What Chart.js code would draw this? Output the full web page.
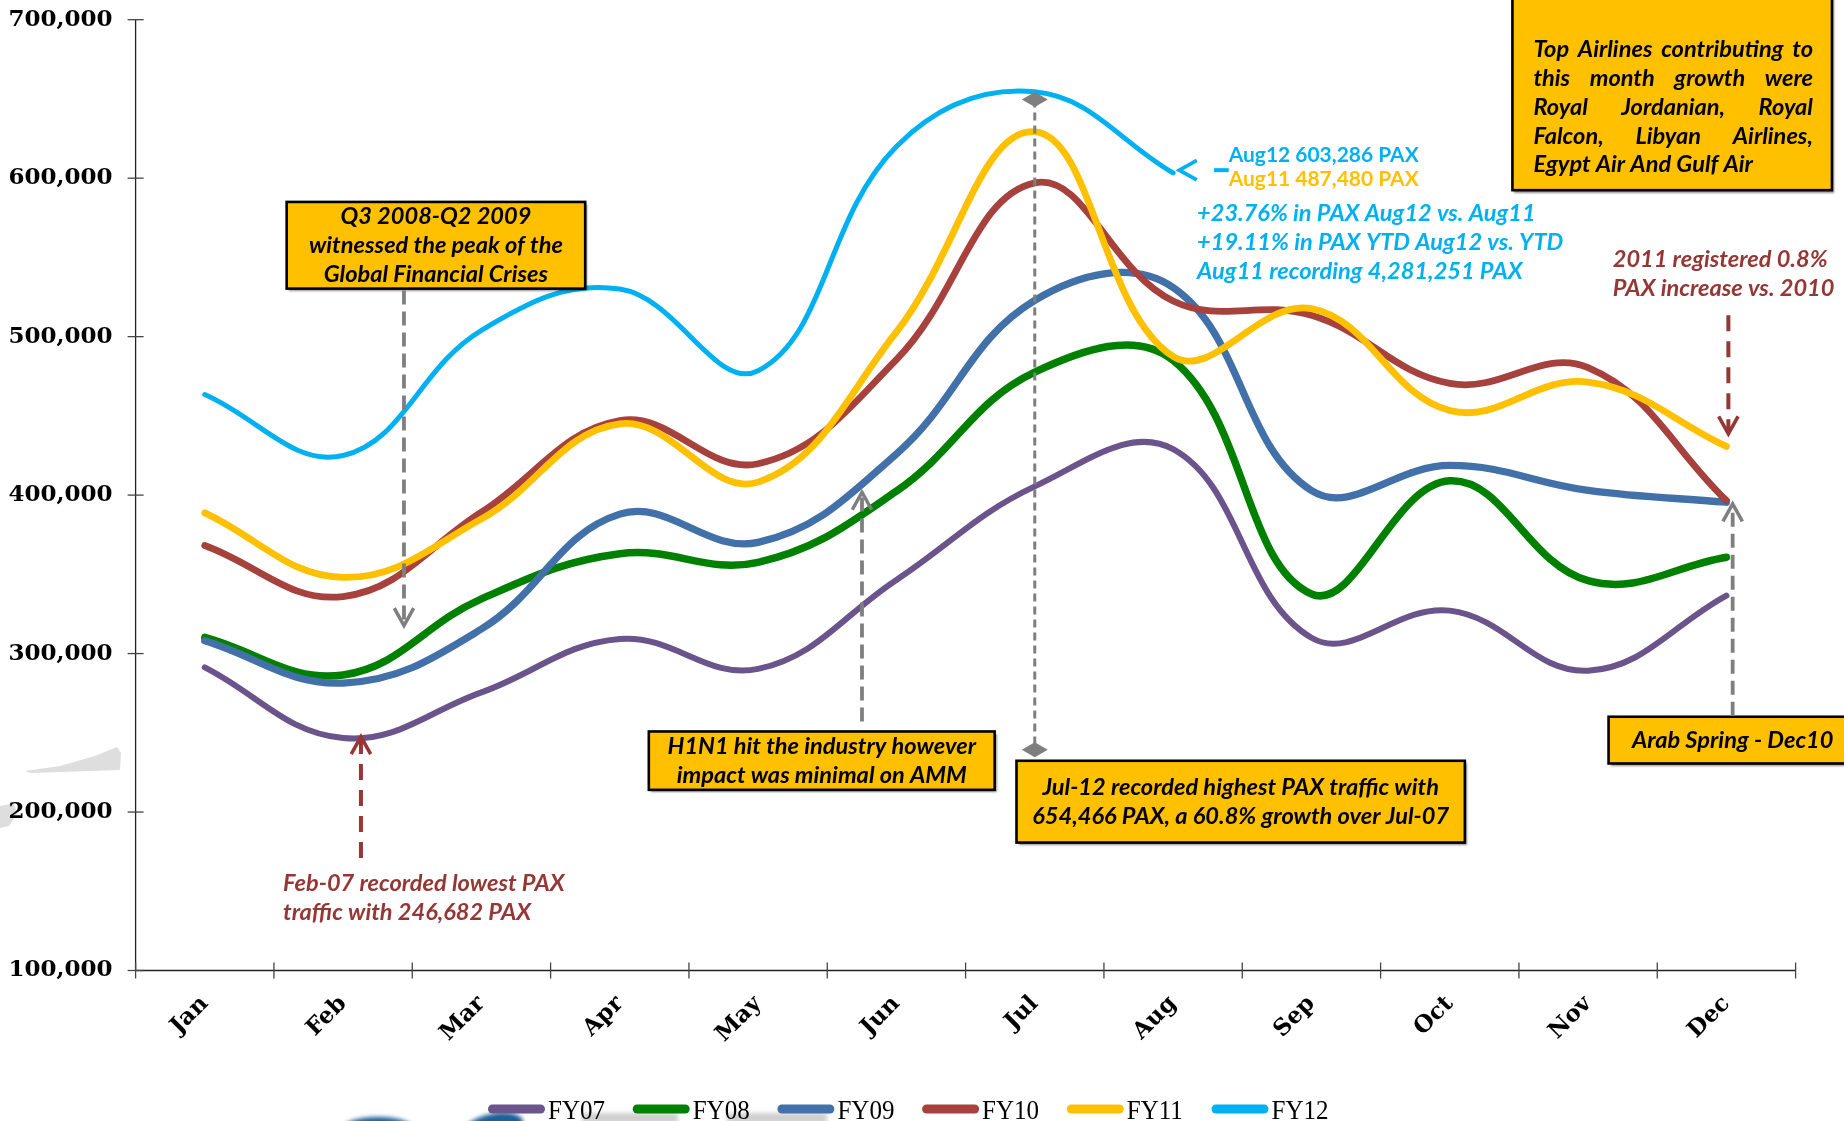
<!DOCTYPE html>
<html><head><meta charset="utf-8">
<script src="https://cdn.jsdelivr.net/npm/chart.js@4.4.0/dist/chart.umd.min.js"></script>
<style>html,body{margin:0;padding:0;background:#fff;overflow:hidden}canvas{display:block}</style>
</head><body>
<canvas id="c" width="1844" height="1121"></canvas>
<script>
// ---------------- DATA ----------------
const months = ['Jan','Feb','Mar','Apr','May','Jun','Jul','Aug','Sep','Oct','Nov','Dec'];
const seriesNames = ['FY07','FY08','FY09','FY10','FY11','FY12'];
const fy07 = [291300, 246682, 275500, 309200, 290300, 346500, 405500, 429000, 310000, 327100, 289200, 336600];
const fy08 = [310200, 286500, 334500, 363000, 357600, 402500, 477600, 485000, 337600, 409000, 346000, 360800];
const fy09 = [308100, 281400, 315500, 388000, 370200, 426000, 522900, 531000, 402900, 418700, 403000, 395500];
const fy10 = [368200, 336000, 389200, 447000, 419800, 485500, 597000, 522500, 513500, 470500, 480500, 396600];
const fy11 = [388800, 348100, 385000, 445000, 408200, 503000, 629300, 487480, 517700, 453400, 471300, 430700];
const fy12 = [463500, 425000, 504000, 530000, 478500, 620000, 654466, 603286];
const yTicks = [100000, 200000, 300000, 400000, 500000, 600000, 700000];

// ---------------- STYLE ----------------
const colors = ['#6B548C', '#008000', '#4271A9', '#A6413D', '#FFC000', '#00B0F0'];
const widths = [6, 7.5, 7.3, 6.8, 6.8, 5];
const DARKRED = '#953735', GRAY = '#7F7F7F', BOX = '#FFC000', SKY = '#00B0F0', GOLD = '#FFC000';

// annotation anchors in data space (category index, value)
const annot = {
  crisisBox: {i0: 0.592, i1: 2.750, v0: 585000, v1: 530300,
    lines: ['Q3 2008-Q2 2009', 'witnessed the peak of the', 'Global Financial Crises']},
  crisisArrow: {i: 1.44, vTip: 317600},
  febArrow: {i: 1.129, vTip: 247600, vEnd: 171000},
  febText: {i: 0.566, v: 154650, lines: ['Feb-07 recorded lowest PAX', 'traffic with 246,682 PAX']},
  h1n1Box: {i0: 3.21, i1: 5.71, v0: 250840, v1: 214010,
    lines: ['H1N1 hit the industry however', 'impact was minimal on AMM']},
  h1n1Arrow: {i: 4.751, vTip: 401800},
  julLine: {i: 6, vTop: 649700, vBot: 239300},
  julBox: {i0: 5.868, i1: 9.109, v0: 232340, v1: 180730,
    lines: ['Jul-12 recorded highest PAX traffic with', '654,466 PAX, a 60.8% growth over Jul-07']},
  arabBox: {i0: 10.148, i1: 11.943, v0: 260140, v1: 230640, lines: ['Arab Spring - Dec10']},
  arabArrow: {i: 11.045, vTip: 394500},
  decArrow: {i: 11.014, vFrom: 513450, vTip: 438700},
  decText: {i: 10.178, v: 548200, lines: ['2011 registered 0.8%', 'PAX increase vs. 2010']},
  augArrow: {iTip: 7.045, v: 605050, iDash0: 7.296, iDash1: 7.402},
  augLabels: {i: 7.402, v: 614530, lines: ['Aug12 603,286 PAX', 'Aug11 487,480 PAX']},
  augText: {i: 7.173, v: 577700, lines: ['+23.76% in PAX Aug12 vs. Aug11', '+19.11% in PAX YTD Aug12 vs. YTD', 'Aug11 recording 4,281,251 PAX']},
  topBox: {i0: 9.453, i1: 11.763, v0: 731000, v1: 592420,
    lines: ['Top Airlines contributing to', 'this month growth were', 'Royal Jordanian, Royal', 'Falcon, Libyan Airlines,', 'Egypt Air And Gulf Air']}
};

const LH = 29;
const fontIt = s => `italic bold ${s}px Lato, "Open Sans", sans-serif`;
const fontUp = s => `bold ${s}px Lato, "Open Sans", sans-serif`;
let SXI = 1, SXU = 1, SXL = 1;

function calibrate(ctx) {
  ctx.save();
  ctx.font = fontIt(22); SXI = 254 / ctx.measureText('witnessed the peak of the').width;
  ctx.font = fontUp(21); SXU = 190 / ctx.measureText('Aug12 603,286 PAX').width;
  ctx.font = '28px "Liberation Serif", serif'; SXL = 57 / ctx.measureText('FY07').width;
  ctx.restore();
}

function txt(ctx, s, x, y, font, color, align, sx) {
  ctx.save();
  ctx.font = font; ctx.fillStyle = color; ctx.textBaseline = 'middle'; ctx.textAlign = align || 'left';
  ctx.translate(x, y); ctx.scale(sx || 1, 1);
  ctx.fillText(s, 0, 0);
  ctx.restore();
}

function drawBox(ctx, x0, y0, x1, y1) {
  ctx.save();
  ctx.shadowColor = 'rgba(0,0,0,0.45)'; ctx.shadowOffsetX = 2; ctx.shadowOffsetY = 2.5; ctx.shadowBlur = 2;
  ctx.fillStyle = BOX; ctx.fillRect(x0, y0, x1 - x0, y1 - y0);
  ctx.shadowColor = 'transparent';
  ctx.lineWidth = 2.6; ctx.strokeStyle = '#000'; ctx.strokeRect(x0, y0, x1 - x0, y1 - y0);
  ctx.restore();
}

function boxWithText(ctx, p, b) {
  const [x0, y0] = p(b.i0, b.v0), [x1, y1] = p(b.i1, b.v1);
  drawBox(ctx, x0, y0, x1, y1);
  const cx = (x0 + x1) / 2, cy = (y0 + y1) / 2 + 1;
  const n = b.lines.length;
  b.lines.forEach((s, k) => txt(ctx, s, cx, cy - (n - 1) * LH / 2 + k * LH, fontIt(22), '#000', 'center', SXI));
}

function chevron(ctx, x, y, dx, dy, color, lw) {
  const L = 20, a = Math.PI / 6.2;
  ctx.save(); ctx.strokeStyle = color; ctx.lineWidth = lw; ctx.lineCap = 'butt'; ctx.lineJoin = 'miter';
  const bx = -dx, by = -dy;
  const r = (ang) => [bx * Math.cos(ang) - by * Math.sin(ang), bx * Math.sin(ang) + by * Math.cos(ang)];
  const [ax, ay] = r(a), [cx2, cy2] = r(-a);
  ctx.beginPath();
  ctx.moveTo(x + ax * L, y + ay * L); ctx.lineTo(x, y); ctx.lineTo(x + cx2 * L, y + cy2 * L);
  ctx.stroke(); ctx.restore();
}

function dashLine(ctx, x1, y1, x2, y2, color, lw, dash) {
  ctx.save(); ctx.strokeStyle = color; ctx.lineWidth = lw; ctx.setLineDash(dash); ctx.lineCap = 'butt';
  ctx.beginPath(); ctx.moveTo(x1, y1); ctx.lineTo(x2, y2); ctx.stroke(); ctx.restore();
}

function diamond(ctx, x, y) {
  ctx.save(); ctx.fillStyle = GRAY; ctx.beginPath();
  ctx.moveTo(x - 13, y); ctx.lineTo(x, y - 7.5); ctx.lineTo(x + 13, y); ctx.lineTo(x, y + 7.5); ctx.closePath();
  ctx.fill(); ctx.restore();
}

function justify(ctx, s, xL, xR, y, font, sx) {
  ctx.save(); ctx.font = font;
  const words = s.split(' ');
  const ws = words.map(w => ctx.measureText(w).width * sx);
  const gap = (xR - xL - ws.reduce((a, b) => a + b, 0)) / (words.length - 1);
  ctx.restore();
  let x = xL;
  words.forEach((w, k) => { txt(ctx, w, x, y, font, '#000', 'left', sx); x += ws[k] + gap; });
}

const backdrop = {
  id: 'backdrop',
  beforeDraw(chart) {
    const ctx = chart.ctx;
    ctx.save();
    ctx.fillStyle = '#fff'; ctx.fillRect(0, 0, chart.width, chart.height);
    ctx.fillStyle = '#dedede';
    ctx.beginPath();
    ctx.moveTo(25, 771); ctx.lineTo(60, 766); ctx.lineTo(95, 756); ctx.lineTo(117, 747);
    ctx.lineTo(121, 753); ctx.lineTo(120, 770); ctx.lineTo(30, 773); ctx.closePath(); ctx.fill();
    ctx.beginPath();
    ctx.moveTo(0, 806); ctx.lineTo(14, 803); ctx.lineTo(17, 814); ctx.lineTo(9, 826); ctx.lineTo(0, 828); ctx.closePath(); ctx.fill();
    ctx.filter = 'blur(2px)';
    ctx.fillStyle = '#1d5f98';
    ctx.beginPath(); ctx.ellipse(378, 1131, 38, 14, 0, 0, Math.PI * 2); ctx.fill();
    ctx.beginPath(); ctx.ellipse(492, 1129, 32, 15, -0.25, 0, Math.PI * 2); ctx.fill();
    ctx.fillStyle = '#cfcfcf';
    ctx.fillRect(582, 1113, 96, 10); ctx.fillRect(727, 1113, 100, 10);
    ctx.restore();
  }
};

const overlay = {
  id: 'overlay',
  afterDraw(chart) {
    const ctx = chart.ctx, xs = chart.scales.x, ys = chart.scales.y, ca = chart.chartArea;
    const p = (i, v) => [xs.getPixelForValue(i), ys.getPixelForValue(v)];
    calibrate(ctx);

    // axes
    ctx.save(); ctx.strokeStyle = '#222'; ctx.lineWidth = 1.3;
    ctx.beginPath(); ctx.moveTo(ca.left, ys.getPixelForValue(yTicks[yTicks.length - 1])); ctx.lineTo(ca.left, ca.bottom);
    ctx.lineTo(ca.right, ca.bottom); ctx.stroke();
    ctx.strokeStyle = '#444';
    yTicks.forEach(t => { const y = ys.getPixelForValue(t); ctx.beginPath(); ctx.moveTo(ca.left - 8, y); ctx.lineTo(ca.left + 8, y); ctx.stroke(); });
    for (let k = 0; k <= months.length; k++) { const x = xs.getPixelForValue(k - 0.5); ctx.beginPath(); ctx.moveTo(x, ca.bottom - 8); ctx.lineTo(x, ca.bottom + 8); ctx.stroke(); }
    ctx.restore();

    // Jul vertical dashed line with diamonds
    {
      const a = annot.julLine; const [x, yT] = p(a.i, a.vTop); const [, yB] = p(a.i, a.vBot);
      dashLine(ctx, x, yT, x, yB, GRAY, 3, [8, 5]);
      diamond(ctx, x, yT); diamond(ctx, x, yB);
    }
    // crisis box + arrow
    {
      const b = annot.crisisBox; boxWithText(ctx, p, b);
      const a = annot.crisisArrow; const [x, yTip] = p(a.i, a.vTip); const [, yTop] = p(a.i, b.v1);
      dashLine(ctx, x, yTop + 2, x, yTip - 2, GRAY, 3.8, [14, 7]);
      chevron(ctx, x, yTip, 0, 1, GRAY, 3.5);
    }
    // Feb-07 arrow + text
    {
      const a = annot.febArrow; const [x, yTip] = p(a.i, a.vTip); const [, yEnd] = p(a.i, a.vEnd);
      dashLine(ctx, x, yEnd, x, yTip + 2, DARKRED, 4, [16, 10]);
      chevron(ctx, x, yTip, 0, -1, DARKRED, 3.6);
      const t = annot.febText; const [tx, ty] = p(t.i, t.v);
      t.lines.forEach((s, k) => txt(ctx, s, tx, ty + k * LH, fontIt(22), DARKRED, 'left', SXI));
    }
    // H1N1
    {
      const b = annot.h1n1Box; boxWithText(ctx, p, b);
      const a = annot.h1n1Arrow; const [x, yTip] = p(a.i, a.vTip); const [, yBox] = p(a.i, b.v0);
      dashLine(ctx, x, yBox - 10, x, yTip + 2, GRAY, 3.8, [14, 7]);
      chevron(ctx, x, yTip, 0, -1, GRAY, 3.5);
    }
    // Jul-12 box
    boxWithText(ctx, p, annot.julBox);
    // Arab spring
    {
      const b = annot.arabBox; boxWithText(ctx, p, b);
      const a = annot.arabArrow; const [x, yTip] = p(a.i, a.vTip); const [, yBox] = p(a.i, b.v0);
      dashLine(ctx, x, yBox - 1, x, yTip + 2, GRAY, 3.8, [14, 7]);
      chevron(ctx, x, yTip, 0, -1, GRAY, 3.5);
    }
    // Dec red arrow + text
    {
      const a = annot.decArrow; const [x, yF] = p(a.i, a.vFrom); const [, yTip] = p(a.i, a.vTip);
      dashLine(ctx, x, yF, x, yTip - 2, DARKRED, 4, [16, 10]);
      chevron(ctx, x, yTip, 0, 1, DARKRED, 3.6);
      const t = annot.decText; const [tx, ty] = p(t.i, t.v);
      t.lines.forEach((s, k) => txt(ctx, s, tx, ty + k * LH, fontIt(22), DARKRED, 'left', SXI));
    }
    // Aug arrow + labels
    {
      const a = annot.augArrow; const [xt, y] = p(a.iTip, a.v);
      const [xd0] = p(a.iDash0, a.v), [xd1] = p(a.iDash1, a.v);
      ctx.save(); ctx.strokeStyle = SKY; ctx.lineWidth = 4; ctx.beginPath(); ctx.moveTo(xd0, y); ctx.lineTo(xd1, y); ctx.stroke(); ctx.restore();
      chevron(ctx, xt, y, -1, 0, SKY, 3.8);
      const l = annot.augLabels; const [lx, ly] = p(l.i, l.v);
      txt(ctx, l.lines[0], lx, ly, fontUp(21), SKY, 'left', SXU);
      txt(ctx, l.lines[1], lx, ly + 24, fontUp(21), GOLD, 'left', SXU);
      const t = annot.augText; const [tx, ty] = p(t.i, t.v);
      t.lines.forEach((s, k) => txt(ctx, s, tx, ty + k * LH, fontIt(22), SKY, 'left', SXI));
    }
    // top-right box
    {
      const b = annot.topBox; const [x0, y0] = p(b.i0, b.v0), [x1, y1] = p(b.i1, b.v1);
      drawBox(ctx, x0, y0, x1, y1);
      const xL = x0 + 21, xR = x1 - 19, n = b.lines.length;
      b.lines.forEach((s, k) => {
        const y = y1 - 25 - (n - 1 - k) * 28.75;
        if (k < n - 1) justify(ctx, s, xL, xR, y, fontIt(22), SXI);
        else txt(ctx, s, xL, y, fontIt(22), '#000', 'left', SXI);
      });
    }
    // legend
    {
      const ds = chart.data.datasets;
      let x = 488; const y = 1109;
      ds.forEach((d) => {
        ctx.save(); ctx.strokeStyle = d.borderColor; ctx.lineWidth = 9; ctx.lineCap = 'round';
        ctx.beginPath(); ctx.moveTo(x + 4.5, y); ctx.lineTo(x + 52.5, y); ctx.stroke(); ctx.restore();
        ctx.save(); ctx.font = '28px "Liberation Serif", serif'; ctx.fillStyle = '#000'; ctx.textBaseline = 'alphabetic';
        ctx.translate(x + 60, 1118.5); ctx.scale(SXL, 1); ctx.fillText(d.label, 0, 0); ctx.restore();
        x += 144.7;
      });
    }
  }
};

const seriesData = [fy07, fy08, fy09, fy10, fy11, fy12];
const chart = new Chart(document.getElementById('c'), {
  type: 'line',
  data: {
    labels: months,
    datasets: seriesNames.map((n, k) => ({
      label: n, data: seriesData[k], borderColor: colors[k], backgroundColor: colors[k],
      borderWidth: widths[k], pointRadius: 0, pointHoverRadius: 0, tension: 0.4, fill: false,
      borderCapStyle: 'round', borderJoinStyle: 'round', order: seriesNames.length - k
    }))
  },
  options: {
    responsive: false, animation: false, devicePixelRatio: 1,
    layout: {padding: {left: 0, right: 48.4, top: 19.7, bottom: 40}},
    plugins: {legend: {display: false}, tooltip: {enabled: false}, title: {display: false}},
    scales: {
      x: {
        type: 'category', offset: true,
        grid: {display: false, drawTicks: false}, border: {display: false},
        ticks: {minRotation: 45, maxRotation: 45, autoSkip: false, padding: 20, color: '#000',
          font: {family: 'DejaVu Serif', weight: 'bold', size: 23}},
        afterFit(s) { s.height = 110.5; s.paddingLeft = 0; s.paddingRight = 0; }
      },
      y: {
        min: yTicks[0], max: yTicks[yTicks.length - 1],
        afterBuildTicks(s) { s.ticks = yTicks.map(v => ({value: v})); },
        grid: {display: false, drawTicks: false}, border: {display: false},
        ticks: {padding: 23, color: '#000', callback: v => v.toLocaleString('en-US'),
          font: {family: 'DejaVu Serif', weight: 'bold', size: 23}},
        afterFit(s) { s.width = 135.6; s.paddingTop = 0; s.paddingBottom = 0; }
      }
    }
  },
  plugins: [backdrop, overlay]
});
</script>
</body></html>
